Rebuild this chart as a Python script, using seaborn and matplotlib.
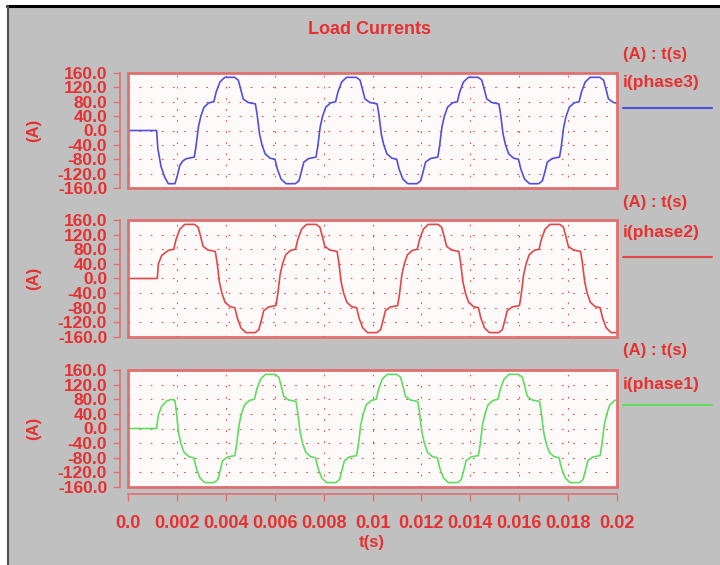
import numpy as np
import pandas as pd
import matplotlib
matplotlib.use("Agg")
import matplotlib.pyplot as plt
import seaborn as sns
from matplotlib.patches import Rectangle
from matplotlib.lines import Line2D

# ---------------- data (time in ms, current in A) ----------------
t_phase3 = [0, 1.17, 1.22, 1.35, 1.50, 1.65, 1.92, 2.02, 2.12, 2.25,
            2.41, 2.71, 2.78, 2.88, 2.98, 3.11, 3.31, 3.51, 3.61, 3.76,
            3.96, 4.36, 4.51, 4.61, 4.71, 4.91, 5.21, 5.28, 5.38, 5.48,
            5.61, 5.81, 6.01, 6.11, 6.26, 6.46,
            6.84, 6.99, 7.09, 7.19, 7.39, 7.69, 7.76, 7.86, 7.96, 8.09,
            8.29, 8.49, 8.59, 8.74, 8.94, 9.34, 9.49, 9.59, 9.69, 9.89,
            10.19, 10.26, 10.36, 10.46, 10.59, 10.79, 10.99, 11.09, 11.24, 11.44,
            11.82, 11.97, 12.07, 12.17, 12.37, 12.67, 12.74, 12.84, 12.94, 13.07,
            13.27, 13.47, 13.57, 13.72, 13.92, 14.32, 14.47, 14.57, 14.67, 14.87,
            15.17, 15.24, 15.34, 15.44, 15.57, 15.77, 15.97, 16.07, 16.22, 16.42,
            16.80, 16.95, 17.05, 17.15, 17.35, 17.65, 17.72, 17.82, 17.92, 18.05,
            18.25, 18.45, 18.55, 18.70, 18.90, 19.30, 19.45, 19.55, 19.65, 19.85, 20.0]
i_phase3 = [0, 0, -50, -100, -130, -148, -148, -125, -97, -84,
            -78, -74, -45, 10, 40, 65, 77, 80, 108, 135,
            148, 148, 140, 115, 88, 78, 74, 45, -10, -40,
            -65, -77, -80, -108, -135, -148,
            -148, -140, -115, -88, -78, -74, -45, 10, 40, 65,
            77, 80, 108, 135, 148, 148, 140, 115, 88, 78,
            74, 45, -10, -40, -65, -77, -80, -108, -135, -148,
            -148, -140, -115, -88, -78, -74, -45, 10, 40, 65,
            77, 80, 108, 135, 148, 148, 140, 115, 88, 78,
            74, 45, -10, -40, -65, -77, -80, -108, -135, -148,
            -148, -140, -115, -88, -78, -74, -45, 10, 40, 65,
            77, 80, 108, 135, 148, 148, 140, 115, 88, 78, 76]

t_phase2 = [0, 1.20, 1.24, 1.38, 1.65, 1.87, 1.97, 2.12, 2.32, 2.72,
            2.87, 2.97, 3.07, 3.27, 3.57, 3.64, 3.74, 3.84, 3.97, 4.17,
            4.37, 4.47, 4.62, 4.82,
            5.20, 5.35, 5.45, 5.55, 5.75, 6.05, 6.12, 6.22, 6.32, 6.45,
            6.65, 6.85, 6.95, 7.10, 7.30, 7.70, 7.85, 7.95, 8.05, 8.25,
            8.55, 8.62, 8.72, 8.82, 8.95, 9.15, 9.35, 9.45, 9.60, 9.80,
            10.18, 10.33, 10.43, 10.53, 10.73, 11.03, 11.10, 11.20, 11.30, 11.43,
            11.63, 11.83, 11.93, 12.08, 12.28, 12.68, 12.83, 12.93, 13.03, 13.23,
            13.53, 13.60, 13.70, 13.80, 13.93, 14.13, 14.33, 14.43, 14.58, 14.78,
            15.16, 15.31, 15.41, 15.51, 15.71, 16.01, 16.08, 16.18, 16.28, 16.41,
            16.61, 16.81, 16.91, 17.06, 17.26, 17.66, 17.81, 17.91, 18.01, 18.21,
            18.51, 18.58, 18.68, 18.78, 18.91, 19.11, 19.31, 19.41, 19.56, 19.76, 20.0]
i_phase2 = [0, 0, 40, 63, 77, 80, 108, 135, 148, 148,
            140, 115, 88, 78, 74, 45, -10, -40, -65, -77,
            -80, -108, -135, -148,
            -148, -140, -115, -88, -78, -74, -45, 10, 40, 65,
            77, 80, 108, 135, 148, 148, 140, 115, 88, 78,
            74, 45, -10, -40, -65, -77, -80, -108, -135, -148,
            -148, -140, -115, -88, -78, -74, -45, 10, 40, 65,
            77, 80, 108, 135, 148, 148, 140, 115, 88, 78,
            74, 45, -10, -40, -65, -77, -80, -108, -135, -148,
            -148, -140, -115, -88, -78, -74, -45, 10, 40, 65,
            77, 80, 108, 135, 148, 148, 140, 115, 88, 78,
            74, 45, -10, -40, -65, -77, -80, -108, -135, -148, -148]

t_phase1 = [0, 1.17, 1.24, 1.38, 1.58, 1.79, 1.92, 1.99, 2.06, 2.16,
            2.29, 2.49, 2.69, 2.79, 2.94, 3.14,
            3.52, 3.67, 3.77, 3.87, 4.07, 4.37, 4.44, 4.54, 4.64, 4.77,
            4.97, 5.17, 5.27, 5.42, 5.62, 6.02, 6.17, 6.27, 6.37, 6.57,
            6.87, 6.94, 7.04, 7.14, 7.27, 7.47, 7.67, 7.77, 7.92, 8.12,
            8.50, 8.65, 8.75, 8.85, 9.05, 9.35, 9.42, 9.52, 9.62, 9.75,
            9.95, 10.15, 10.25, 10.40, 10.60, 11.00, 11.15, 11.25, 11.35, 11.55,
            11.85, 11.92, 12.02, 12.12, 12.25, 12.45, 12.65, 12.75, 12.90, 13.10,
            13.48, 13.63, 13.73, 13.83, 14.03, 14.33, 14.40, 14.50, 14.60, 14.73,
            14.93, 15.13, 15.23, 15.38, 15.58, 15.98, 16.13, 16.23, 16.33, 16.53,
            16.83, 16.90, 17.00, 17.10, 17.23, 17.43, 17.63, 17.73, 17.88, 18.08,
            18.46, 18.61, 18.71, 18.81, 19.01, 19.31, 19.38, 19.48, 19.58, 19.71,
            19.91, 20.0]
i_phase1 = [0, 0, 37, 61, 75, 80, 76, 40, -10, -40,
            -65, -77, -80, -108, -135, -148,
            -148, -140, -115, -88, -78, -74, -45, 10, 40, 65,
            77, 80, 108, 135, 148, 148, 140, 115, 88, 78,
            74, 45, -10, -40, -65, -77, -80, -108, -135, -148,
            -148, -140, -115, -88, -78, -74, -45, 10, 40, 65,
            77, 80, 108, 135, 148, 148, 140, 115, 88, 78,
            74, 45, -10, -40, -65, -77, -80, -108, -135, -148,
            -148, -140, -115, -88, -78, -74, -45, 10, 40, 65,
            77, 80, 108, 135, 148, 148, 140, 115, 88, 78,
            74, 45, -10, -40, -65, -77, -80, -108, -135, -148,
            -148, -140, -115, -88, -78, -74, -45, 10, 40, 65,
            77, 78]

y_ticks = [160, 120, 80, 40, 0, -40, -80, -120, -160]
x_ticks = [0.0, 0.002, 0.004, 0.006, 0.008, 0.01, 0.012, 0.014, 0.016, 0.018, 0.02]
x_labels = ["0.0", "0.002", "0.004", "0.006", "0.008", "0.01", "0.012",
            "0.014", "0.016", "0.018", "0.02"]
series_names = ["i(phase3)", "i(phase2)", "i(phase1)"]
title = "Load Currents"

# ---------------- style ----------------
sns.set_style("white")
plt.rcParams['font.family'] = ['Liberation Sans', 'DejaVu Sans']

RED = '#e83030'
FRAME = '#e07070'
GRID = '#e05050'
BG = '#c0c0c0'
colors = ['#5050dc', '#e04848', '#60dc60']

W, H = 720, 565
fig = plt.figure(figsize=(W / 100, H / 100), dpi=100)
fig.patch.set_facecolor('white')
fig.add_artist(Rectangle((8 / W, 0), 1 - 8 / W, 1 - 7 / H, transform=fig.transFigure,
                         facecolor=BG, edgecolor='none', zorder=-10))
fig.add_artist(Line2D([7 / W, 1], [1 - 6 / H] * 2, color='black', lw=2.2))
fig.add_artist(Line2D([8 / W] * 2, [0, 1 - 6 / H], color='#505050', lw=1.5))

def fx(px):
    return px / W

def fy(py):
    return 1 - py / H

panels = [(73, 188), (220, 337), (370, 487)]
data = [(t_phase3, i_phase3), (t_phase2, i_phase2), (t_phase1, i_phase1)]
label_offsets = [(55, 83, 108), (203, 232, 257), (350, 385, 405)]

left_px, right_px = 128, 617
for k, ((top, bot), (tt, ii)) in enumerate(zip(panels, data)):
    ax = fig.add_axes([fx(left_px), fy(bot), (right_px - left_px) / W, (bot - top) / H])
    df = pd.DataFrame({'t': np.array(tt) / 1000.0, 'i': ii})
    sns.lineplot(data=df, x='t', y='i', ax=ax, color=colors[k], lw=1.2,
                 estimator=None, sort=False)
    ax.set_facecolor('#fffafa')
    ax.set_xlim(0, 0.02)
    ax.set_ylim(-160, 160)
    ax.set_yticks(y_ticks)
    ax.set_yticklabels([f"{v:.1f}" for v in y_ticks])
    ax.set_xticks(x_ticks)
    ax.set_xlabel('')
    ax.set_ylabel('')
    ax.grid(True, color=GRID, linestyle=(0, (1.5, 8.5)), lw=0.8)
    for s in ['top', 'right']:
        ax.spines[s].set_visible(False)
    ax.spines['left'].set_position(('outward', 6))
    ax.spines['left'].set_color(FRAME)
    ax.spines['left'].set_linewidth(1.2)
    ax.tick_params(axis='y', colors=FRAME, labelcolor=RED, labelsize=12.5,
                   length=5, width=1, direction='out', pad=4, left=True)
    for lab in ax.get_yticklabels():
        lab.set_fontweight('bold')
    ax.add_patch(Rectangle((0, 0), 1, 1, transform=ax.transAxes, fill=False,
                           edgecolor=FRAME, lw=2, clip_on=False, zorder=5))
    if k < 2:
        ax.spines['bottom'].set_visible(False)
        ax.tick_params(axis='x', length=0, labelbottom=False)
    else:
        ax.spines['bottom'].set_position(('outward', 5))
        ax.spines['bottom'].set_color(FRAME)
        ax.spines['bottom'].set_linewidth(1.2)
        ax.set_xticklabels(x_labels)
        ax.tick_params(axis='x', colors=FRAME, labelcolor=RED, labelsize=13,
                       length=5, width=1, direction='out', pad=10, bottom=True)
        for lab in ax.get_xticklabels():
            lab.set_fontweight('bold')

    # y axis unit label
    fig.text(fx(34), fy((top + bot) / 2), "(A)", rotation=90, color=RED,
             fontsize=12, fontweight='bold', ha='center', va='center')
    # right-hand legend text
    ya, yn, yl = label_offsets[k]
    fig.text(fx(623), fy(ya), "(A) : t(s)", color=RED, fontsize=12,
             fontweight='bold', ha='left', va='center')
    fig.text(fx(623), fy(yn), series_names[k], color=RED, fontsize=12.5,
             fontweight='bold', ha='left', va='center')
    fig.add_artist(Line2D([fx(623), fx(712)], [fy(yl)] * 2, color=colors[k], lw=1.5))

fig.text(fx(370), fy(30), title, color=RED, fontsize=13, fontweight='bold',
         ha='center', va='center')
fig.text(fx(372), fy(542), "t(s)", color=RED, fontsize=12, fontweight='bold',
         ha='center', va='center')

fig.savefig("out.png", dpi=100, facecolor=fig.get_facecolor())
